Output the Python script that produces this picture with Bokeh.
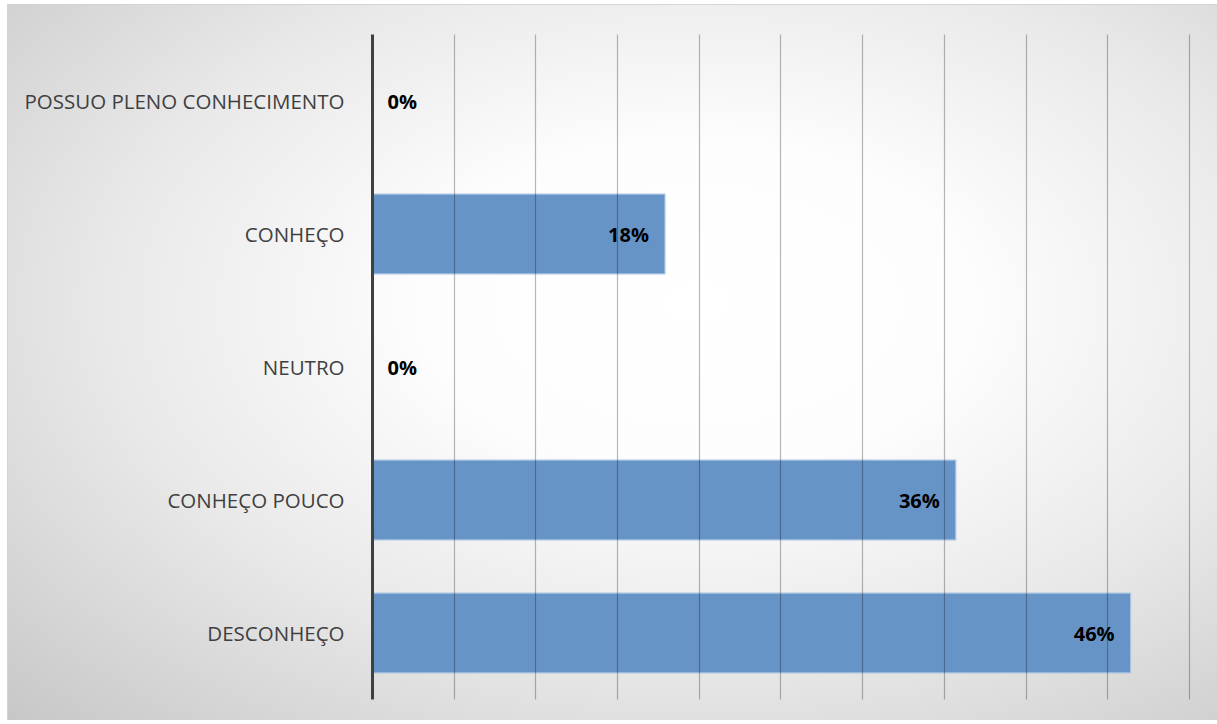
from bokeh.plotting import figure
from bokeh.models import ColumnDataSource, FactorRange, Range1d, FixedTicker
from bokeh.core.properties import value
from bokeh.embed import file_html
from bokeh.resources import INLINE

# Data (top-to-bottom order in chart)
categories = ["POSSUO PLENO CONHECIMENTO", "CONHEÇO", "NEUTRO", "CONHEÇO POUCO", "DESCONHEÇO"]
shares = [0.0, 0.179, 0.0, 0.357, 0.464]
grid_ticks = [0.0, 0.05, 0.10, 0.15, 0.20, 0.25, 0.30, 0.35, 0.40, 0.45, 0.50]

labels = [f"{round(v * 100)}%" for v in shares]
src = ColumnDataSource(dict(cat=categories, val=shares, lab=labels))
nz = [i for i, v in enumerate(shares) if v > 0]
zr = [i for i, v in enumerate(shares) if v == 0]
src_nz = ColumnDataSource(dict(cat=[categories[i] for i in nz], val=[shares[i] for i in nz],
                               lab=[labels[i] for i in nz]))
src_z = ColumnDataSource(dict(cat=[categories[i] for i in zr], val=[shares[i] for i in zr],
                              lab=[labels[i] for i in zr]))

p = figure(width=1210, height=716, output_backend="svg", toolbar_location=None,
           y_range=FactorRange(factors=list(reversed(categories)), range_padding=0),
           x_range=Range1d(0, 0.5025),
           min_border_left=364, min_border_right=25, min_border_top=29, min_border_bottom=22)
p.margin = (4, 0, 0, 7)
p.styles = {
    "background": "radial-gradient(ellipse at 57% 42%, #ffffff 0%, #fdfdfd 28%, #e9e9e9 60%, #c7c7c7 100%)",
    "border-top": "1px solid #d4d4d4",
    "border-left": "1px solid #d4d4d4",
}
p.background_fill_alpha = 0
p.border_fill_alpha = 0
p.outline_line_color = None

p.hbar(y="cat", right="val", left=0, height=0.6, source=src,
       fill_color="#6794c7", fill_alpha=1.0, line_color="#a9c4e4", line_width=1.2)

p.xaxis.visible = False
p.xgrid.ticker = FixedTicker(ticks=grid_ticks)
p.xgrid.grid_line_color = "#000000"
p.xgrid.grid_line_alpha = 0.28
p.xgrid.grid_line_width = 1.2
p.xgrid.level = "guide"
p.ygrid.visible = False

ya = p.yaxis[0]
ya.axis_line_color = "#404040"
ya.axis_line_width = 3
ya.major_tick_line_color = None
ya.minor_tick_line_color = None
ya.major_label_standoff = 22
ya.major_label_text_font = "Open Sans"
ya.major_label_text_font_size = "20.5px"
ya.major_label_text_color = "#404040"

p.text(x="val", y="cat", text="lab", source=src_nz, x_offset=-16,
       text_align="right", text_baseline="middle",
       text_font=value("Open Sans"), text_font_style="bold", text_font_size="20px",
       text_color="#000000")
p.text(x="val", y="cat", text="lab", source=src_z, x_offset=15,
       text_align="left", text_baseline="middle",
       text_font=value("Open Sans"), text_font_style="bold", text_font_size="20px",
       text_color="#000000")

open("out.html", "w").write(file_html(p, INLINE))
